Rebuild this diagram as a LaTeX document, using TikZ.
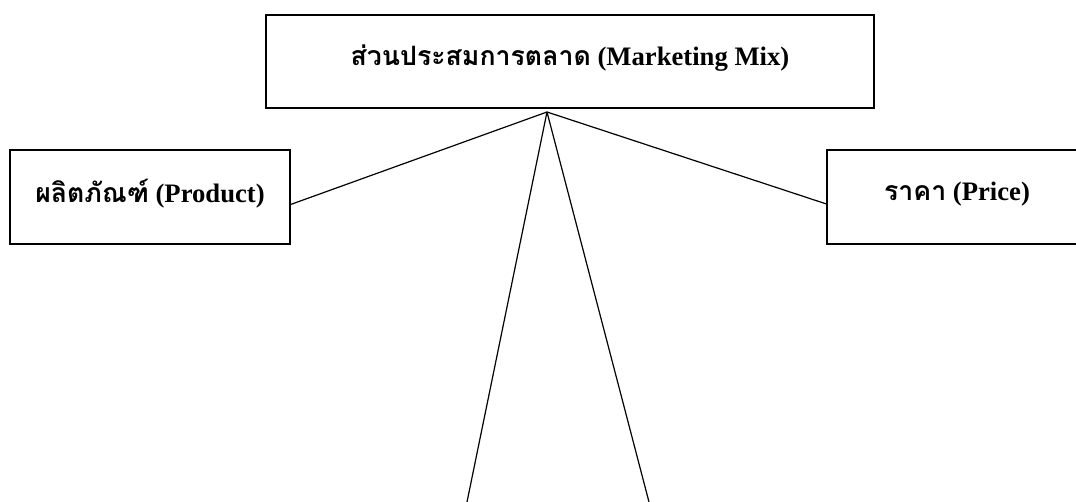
\documentclass[tikz,border=0pt]{standalone}
\usepackage{fontspec}
\setmainfont{Liberation Serif}
\newfontfamily\thaifont[Script=Thai]{Loma}
\usepackage{tikz}

\begin{document}
\begin{tikzpicture}[x=0.75pt, y=-0.75pt,
		mixbox/.style={rectangle, draw, line width=1.4pt, inner sep=0pt, text depth=9pt, font=\fontsize{20}{24}\selectfont\bfseries},
		link/.style={line width=0.9pt}]
		\useasboundingbox (0,0) rectangle (1076,502);
		\node[mixbox, minimum width=456pt, minimum height=69.75pt] (mix) at (570,61.5) {{\thaifont ส่วนประสมการตลาด} (Marketing Mix)};
		\node[mixbox, minimum width=210pt, minimum height=70.5pt] (product) at (150,197) {{\thaifont ผลิตภัณฑ์} (Product)};
		\node[mixbox, minimum width=195pt, minimum height=70.5pt] (price) at (957,197) {{\thaifont ราคา} (Price)};
		\coordinate (apex) at (547,112);
		\coordinate (placeend) at (467,502);
		\coordinate (promoend) at (649,502);
		\draw[link] (apex) -- (product.-3);
		\draw[link] (apex) -- (price.183);
		\draw[link] (apex) -- (placeend);
		\draw[link] (apex) -- (promoend);
	\end{tikzpicture}
\end{document}
